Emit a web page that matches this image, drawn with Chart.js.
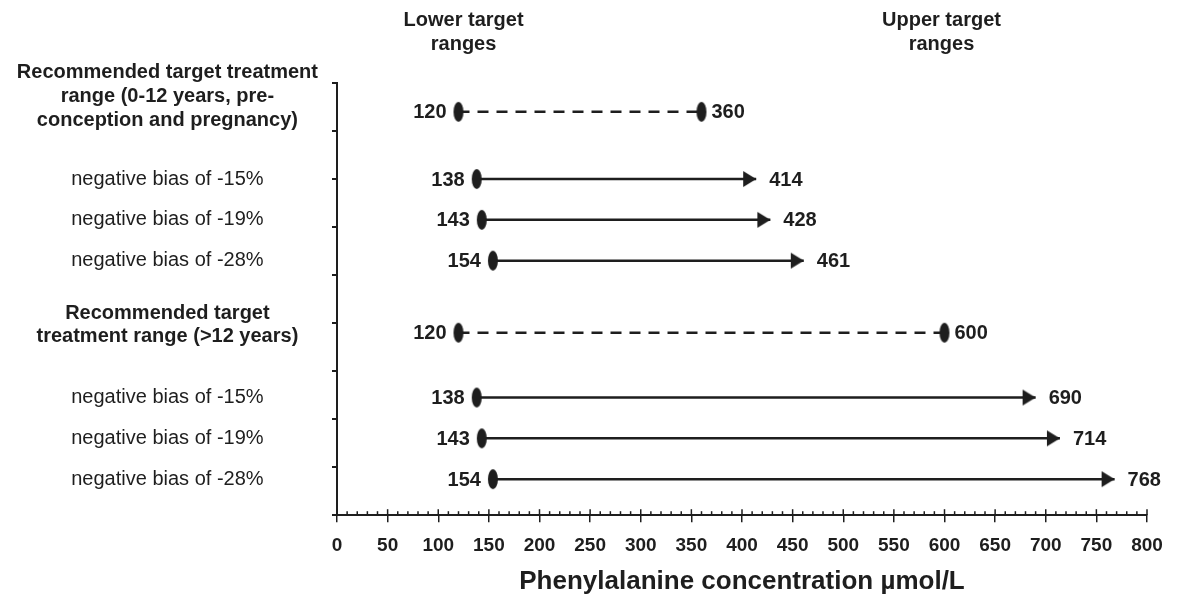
<!DOCTYPE html>
<html>
<head>
<meta charset="utf-8">
<script src="https://cdn.jsdelivr.net/npm/chart.js@4/dist/chart.umd.min.js"></script>
<style>
  html, body { margin: 0; padding: 0; background: #fff; }
  #wrap { width: 1180px; height: 599px; }
</style>
</head>
<body>
<div id="wrap"><canvas id="chart"></canvas></div>
<script>
const rowLabels = [
  ["Recommended target treatment", "range (0-12 years, pre-", "conception and pregnancy)"],
  "negative bias of -15%",
  "negative bias of -19%",
  "negative bias of -28%",
  ["Recommended target", "treatment range (>12 years)"],
  "negative bias of -15%",
  "negative bias of -19%",
  "negative bias of -28%"
];
const rowPos = [8.4, 7.0, 6.15, 5.3, 3.8, 2.45, 1.6, 0.75];
const lowerValues = [120, 138, 143, 154, 120, 138, 143, 154];
const upperValues = [360, 414, 428, 461, 600, 690, 714, 768];
const isTarget = [true, false, false, false, true, false, false, false];
const headerLabels = [["Lower target", "ranges"], ["Upper target", "ranges"]];
const headerAt = [125, 597];
const xTitle = "Phenylalanine concentration \u00b5mol/L";

const FONT = "'Liberation Sans', Arial, Helvetica, sans-serif";
const INK = "#1e1e1e";

// marker images: tall ellipse and right arrowhead (tip at image centre)
const ellipse = document.createElement("canvas");
ellipse.width = 12; ellipse.height = 22;
(() => {
  const c = ellipse.getContext("2d");
  c.fillStyle = INK;
  c.beginPath();
  c.ellipse(6, 11, 5, 10, 0, 0, Math.PI * 2);
  c.fill();
})();
const arrow = document.createElement("canvas");
arrow.width = 28; arrow.height = 18;
(() => {
  const c = arrow.getContext("2d");
  c.fillStyle = INK;
  c.beginPath();
  c.moveTo(14, 9);
  c.lineTo(1, 1);
  c.lineTo(1, 17);
  c.closePath();
  c.fill();
})();

const datasets = rowPos.map((pos, i) => ({
  data: [{x: lowerValues[i], y: pos}, {x: upperValues[i], y: pos}],
  showLine: true,
  borderColor: INK,
  borderWidth: 2.5,
  borderDash: isTarget[i] ? [11, 8] : [],
  pointStyle: [ellipse, isTarget[i] ? ellipse : arrow],
  pointRadius: 6,
  xAxisID: "x",
  yAxisID: "y"
}));

const valueLabels = {
  id: "valueLabels",
  afterDatasetsDraw(chart) {
    const ctx = chart.ctx;
    ctx.save();
    ctx.font = "bold 20px " + FONT;
    ctx.fillStyle = INK;
    ctx.textBaseline = "middle";
    chart.data.datasets.forEach((ds, i) => {
      const meta = chart.getDatasetMeta(i);
      const p0 = meta.data[0], p1 = meta.data[1];
      ctx.textAlign = "right";
      ctx.fillText(String(lowerValues[i]), p0.x - 12, p0.y + 1);
      ctx.textAlign = "left";
      ctx.fillText(String(upperValues[i]), p1.x + (isTarget[i] ? 10 : 13), p1.y + 1);
    });
    ctx.restore();
  }
};

const axisExtras = {
  id: "axisExtras",
  afterDraw(chart) {
    const ctx = chart.ctx;
    const xs = chart.scales.x;
    const bottom = chart.chartArea.bottom;
    ctx.save();
    // minor ticks every 10, pointing up
    ctx.strokeStyle = INK;
    ctx.lineWidth = 1.5;
    for (let v = 0; v <= 800; v += 10) {
      const px = xs.getPixelForValue(v);
      ctx.beginPath();
      ctx.moveTo(px, bottom);
      ctx.lineTo(px, bottom - (v % 50 === 0 ? 6 : 4));
      ctx.stroke();
    }
    // headers above the chart
    ctx.font = "bold 20px " + FONT;
    ctx.fillStyle = INK;
    ctx.textAlign = "center";
    ctx.textBaseline = "middle";
    headerLabels.forEach((lines, i) => {
      const px = xs.getPixelForValue(headerAt[i]);
      lines.forEach((t, j) => ctx.fillText(t, px, 20 + j * 24));
    });
    ctx.restore();
  }
};

new Chart(document.getElementById("chart"), {
  type: "scatter",
  data: { datasets },
  options: {
    responsive: true,
    maintainAspectRatio: false,
    animation: false,
    layout: { padding: { top: 83, right: 33, bottom: 0, left: 0 } },
    plugins: { legend: { display: false }, tooltip: { enabled: false } },
    scales: {
      x: {
        type: "linear",
        min: 0,
        max: 800,
        ticks: {
          stepSize: 50,
          color: INK,
          padding: 12,
          font: { family: FONT, size: 19, weight: "bold" }
        },
        grid: { drawOnChartArea: false, tickLength: 7, color: INK, lineWidth: 1.5 },
        border: { color: INK, width: 2 },
        title: {
          display: true,
          text: xTitle,
          color: INK,
          font: { family: FONT, size: 26, weight: "bold", lineHeight: 1.0 },
          padding: { top: 0, bottom: 4 }
        }
      },
      y: {
        type: "linear",
        position: "left",
        weight: 0,
        min: 0,
        max: 9,
        ticks: { stepSize: 1, display: false },
        grid: { drawOnChartArea: false, tickLength: 5, color: INK, lineWidth: 2 },
        border: { color: INK, width: 2 },
        afterFit: scale => { scale.width = 7; }
      },
      yl: {
        type: "linear",
        position: "left",
        weight: 10,
        min: 0,
        max: 9,
        afterBuildTicks: scale => {
          scale.ticks = rowPos.map((pos, i) => {
            const lines = Array.isArray(rowLabels[i]) ? rowLabels[i].length : 1;
            return { value: pos + (lines - 1) * 0.16 };
          });
        },
        afterFit: scale => { scale.width = 330; },
        ticks: {
          autoSkip: false,
          crossAlign: "center",
          padding: 12,
          color: INK,
          callback: (value, index) => rowLabels[index],
          font: ctx => ({
            family: FONT,
            size: 20,
            weight: isTarget[ctx.index] ? "bold" : "normal",
            lineHeight: 1.18
          })
        },
        grid: { display: false, drawTicks: false },
        border: { display: false }
      }
    }
  },
  plugins: [valueLabels, axisExtras]
});
</script>
</body>
</html>
